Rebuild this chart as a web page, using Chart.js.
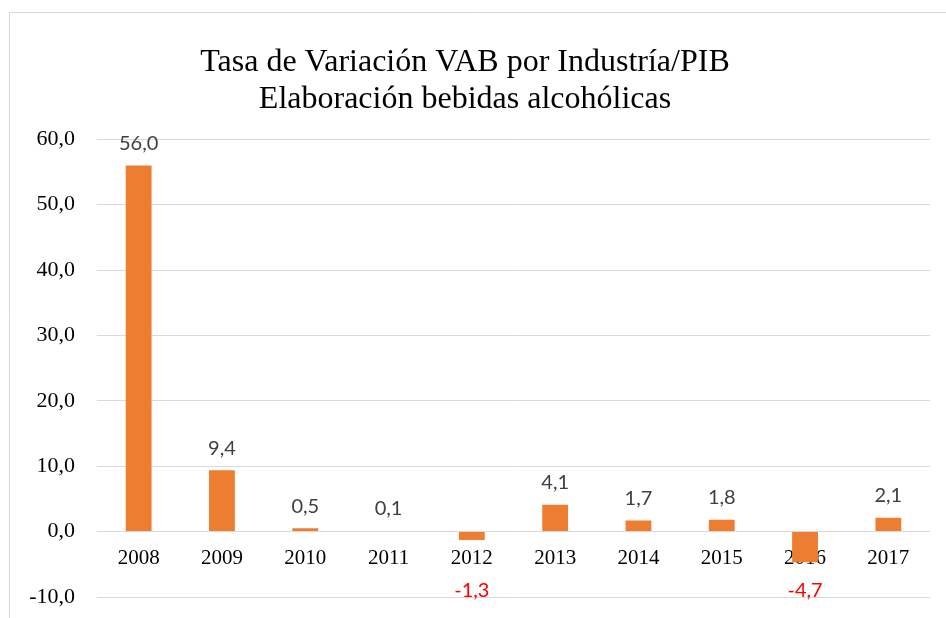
<!DOCTYPE html>
<html>
<head>
<meta charset="utf-8">
<script src="https://cdn.jsdelivr.net/npm/chart.js@4.4.1/dist/chart.umd.min.js"></script>
<style>
  html, body { margin: 0; padding: 0; background: #ffffff; }
  canvas { display: block; }
</style>
</head>
<body>
<canvas id="c" width="946" height="618"></canvas>
<script>
// ---- data ----
const titleLines = ["Tasa de Variación VAB por Industría/PIB", "Elaboración bebidas alcohólicas"];
const years = ["2008", "2009", "2010", "2011", "2012", "2013", "2014", "2015", "2016", "2017"];
const values = [56.0, 9.4, 0.5, 0.1, -1.3, 4.1, 1.7, 1.8, -4.7, 2.1];
const yMin = -10, yMax = 60, yStep = 10;

function fmt(v) { return v.toFixed(1).replace('.', ','); }

const frame = {
  id: 'frame',
  beforeDraw(chart) {
    const ctx = chart.ctx;
    ctx.save();
    ctx.fillStyle = '#ffffff';
    ctx.fillRect(0, 0, chart.width, chart.height);
    ctx.strokeStyle = '#d9d9d9';
    ctx.lineWidth = 1;
    ctx.beginPath();
    ctx.moveTo(9.5, chart.height);
    ctx.lineTo(9.5, 12.5);
    ctx.lineTo(chart.width, 12.5);
    ctx.stroke();
    ctx.restore();
  }
};

const valueLabels = {
  id: 'valueLabels',
  afterDatasetsDraw(chart) {
    const ctx = chart.ctx;
    const meta = chart.getDatasetMeta(0);
    const ys = chart.scales.y;
    ctx.save();
    ctx.font = '20px Lato';
    ctx.textAlign = 'center';
    ctx.textBaseline = 'middle';
    meta.data.forEach((bar, i) => {
      const v = values[i];
      let y;
      if (v >= 0) { y = bar.y - 22; ctx.fillStyle = '#404040'; }
      else { y = ys.getPixelForValue(-9); ctx.fillStyle = '#FF0000'; }
      ctx.fillText(fmt(v), bar.x, y);
    });
    ctx.restore();
  }
};

new Chart(document.getElementById('c'), {
  type: 'bar',
  data: {
    labels: years,
    datasets: [{
      data: values,
      backgroundColor: '#ED7D31',
      borderWidth: 0,
      barPercentage: 0.31,
      categoryPercentage: 1.0
    }]
  },
  options: {
    responsive: false,
    animation: false,
    devicePixelRatio: 1,
    layout: { padding: { left: 0, right: 16, top: 0, bottom: 21 } },
    plugins: {
      legend: { display: false },
      tooltip: { enabled: false },
      title: {
        display: true,
        text: titleLines,
        color: '#000000',
        font: { family: 'Liberation Serif', size: 32, weight: 'normal', lineHeight: 1.16 },
        padding: { top: 44, bottom: 21 }
      }
    },
    scales: {
      x: {
        position: { y: 0 },
        afterFit(scale) { scale.height = 0; },
        grid: { display: false, drawTicks: false },
        border: { display: false },
        ticks: {
          color: '#000000',
          font: { family: 'Liberation Serif', size: 21 },
          padding: 14,
          maxRotation: 0
        }
      },
      y: {
        min: yMin,
        max: yMax,
        afterFit(scale) { scale.width = 97; scale.paddingTop = 0; scale.paddingBottom = 0; },
        grid: { color: '#d9d9d9', lineWidth: 1, drawTicks: false },
        border: { display: false },
        ticks: {
          stepSize: yStep,
          color: '#000000',
          font: { family: 'Liberation Serif', size: 22 },
          padding: 22,
          callback: (v) => fmt(v)
        }
      }
    }
  },
  plugins: [frame, valueLabels]
});
</script>
</body>
</html>
